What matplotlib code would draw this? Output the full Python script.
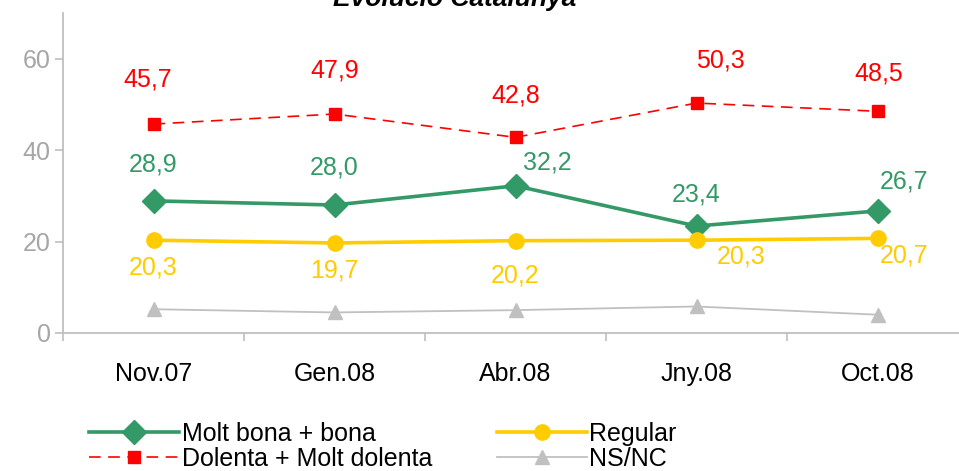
import numpy as np
import matplotlib
matplotlib.use("Agg")
import matplotlib.pyplot as plt
from matplotlib.ticker import FixedLocator

plt.rcParams['font.family'] = ['Liberation Sans', 'DejaVu Sans']

periods = ["Nov.07", "Gen.08", "Abr.08", "Jny.08", "Oct.08"]
bona = [28.9, 28.0, 32.2, 23.4, 26.7]
regular = [20.3, 19.7, 20.2, 20.3, 20.7]
dolenta = [45.7, 47.9, 42.8, 50.3, 48.5]
nsnc = [5.2, 4.5, 5.0, 5.8, 4.0]

# label offsets in points (dx, dy)
off_bona = [(0, 26), (0, 27), (23, 17), (0, 23), (19, 21)]
off_reg = [(0, -20), (0, -20), (0, -25), (32, -12), (19, -12)]
off_dol = [(-4, 32), (0, 31), (0, 30), (17, 31), (1, 27)]

green = "#339966"
yellow = "#FFCC00"
red = "#FF0000"
grey = "#C0C0C0"

W, H = 959, 471
fig = plt.figure(figsize=(W / 100, H / 100), dpi=100)
ax = fig.add_axes([63 / W, 1 - 333 / H, 905 / W, 320 / H])

x = np.arange(len(periods))
l1, = ax.plot(x, bona, color=green, lw=2.6, marker="D", ms=12, label="Molt bona + bona")
l3, = ax.plot(x, regular, color=yellow, lw=2.6, marker="o", ms=11, label="Regular")
l2, = ax.plot(x, dolenta, color=red, lw=1.2, ls=(0, (7, 4.5)), marker="s", ms=8.5, label="Dolenta + Molt dolenta")
l4, = ax.plot(x, nsnc, color=grey, lw=1.3, marker="^", ms=9.5, label="NS/NC")

def labels(vals, offs, col):
    for i, v in enumerate(vals):
        ax.annotate(f"{v:.1f}".replace(".", ","), (i, v), xytext=offs[i],
                    textcoords="offset points", ha="center", va="center",
                    fontsize=18, color=col)

labels(bona, off_bona, green)
labels(regular, off_reg, yellow)
labels(dolenta, off_dol, red)

ax.set_xlim(-0.5, len(periods) - 0.5)
ax.set_ylim(0, 70)
ax.set_yticks([0, 20, 40, 60])
ax.set_xticks(x)
ax.set_xticklabels(periods)
ax.xaxis.set_minor_locator(FixedLocator(np.arange(-0.5, len(periods), 1)))
ax.tick_params(axis="x", which="major", length=0, pad=21, labelsize=18)
ax.tick_params(axis="x", which="minor", length=6, color="#BFBFBF", width=1.2)
ax.tick_params(axis="y", length=6, color="#BFBFBF", width=1.2, labelsize=18,
               labelcolor="#A6A6A6", pad=3)
for s in ["top", "right"]:
    ax.spines[s].set_visible(False)
for s in ["left", "bottom"]:
    ax.spines[s].set_color("#BFBFBF")
    ax.spines[s].set_linewidth(1.3)

fig.text(455 / W, 1 - 6 / H, "Evolució Catalunya", ha="center", va="baseline",
         fontsize=19, fontweight="bold", fontstyle="italic")

fig.legend(handles=[l1, l2, l3, l4], ncol=2, loc="upper left",
           bbox_to_anchor=(79 / W, 1 - 412 / H), frameon=False, fontsize=18,
           handlelength=3.6, handletextpad=0.1, labelspacing=0.02,
           columnspacing=2.6, borderaxespad=0)

fig.savefig("out.png", dpi=100)
